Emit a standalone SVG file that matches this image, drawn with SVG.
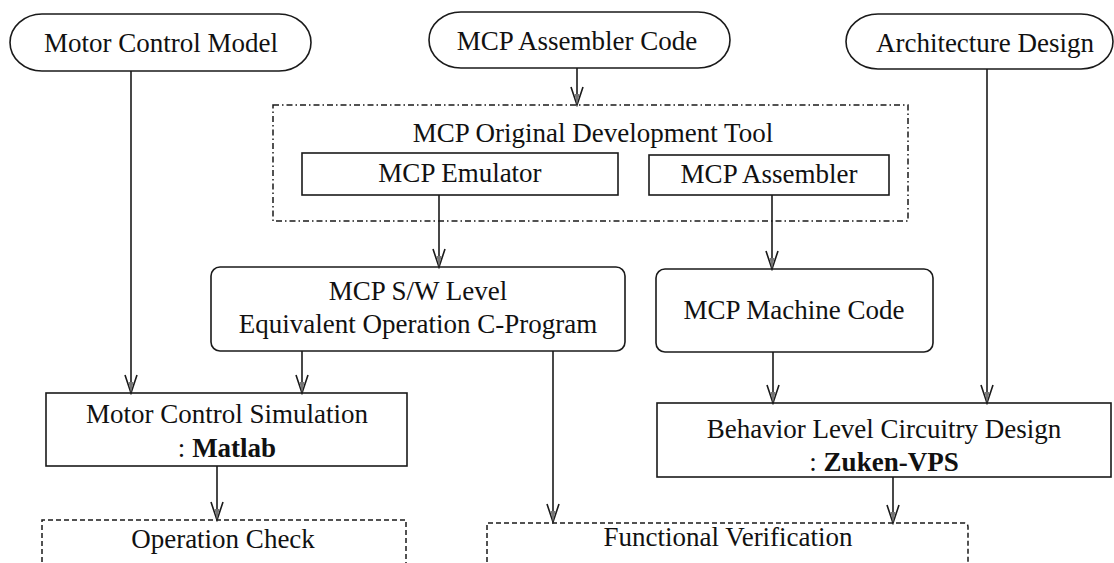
<svg xmlns="http://www.w3.org/2000/svg" width="1114" height="563" viewBox="0 0 1114 563">
<style>
  text { font-family: 'Liberation Serif', 'Times New Roman', 'DejaVu Serif', serif; font-size: 27px; fill: #111; text-anchor: middle; }
  .b { font-weight: bold; }
  .box { fill: none; stroke: #1a1a1a; stroke-width: 1.6; }
  .dash { fill: none; stroke: #1a1a1a; stroke-width: 1.5; stroke-dasharray: 5 3; }
  .dashdot { fill: none; stroke: #1a1a1a; stroke-width: 1.5; stroke-dasharray: 6 3 1.5 3; }
  .line { fill: none; stroke: #1a1a1a; stroke-width: 1.6; }
</style>
<defs>
  <marker id="arr" viewBox="-20 -8 22 16" refX="0" refY="0" markerWidth="22" markerHeight="16" markerUnits="userSpaceOnUse" orient="auto">
    <path d="M-18,-6 L0,0 L-18,6" fill="none" stroke="#1a1a1a" stroke-width="1.6"/>
    <path d="M-11,-2.5 L0,0 L-11,2.5 Z" fill="#777" stroke="none"/>
  </marker>
</defs>

<g id="connectors">
  <line class="line" x1="131" y1="71" x2="131" y2="393" marker-end="url(#arr)"/>
  <line class="line" x1="577" y1="68" x2="577" y2="105" marker-end="url(#arr)"/>
  <line class="line" x1="987" y1="69" x2="987" y2="403" marker-end="url(#arr)"/>
  <line class="line" x1="439" y1="195" x2="439" y2="267" marker-end="url(#arr)"/>
  <line class="line" x1="772" y1="195" x2="772" y2="269" marker-end="url(#arr)"/>
  <line class="line" x1="302" y1="351" x2="302" y2="393" marker-end="url(#arr)"/>
  <line class="line" x1="553" y1="351" x2="553" y2="522" marker-end="url(#arr)"/>
  <line class="line" x1="773" y1="352" x2="773" y2="403" marker-end="url(#arr)"/>
  <line class="line" x1="217" y1="466" x2="217" y2="520" marker-end="url(#arr)"/>
  <line class="line" x1="893" y1="477" x2="893" y2="523" marker-end="url(#arr)"/>
</g>

<g id="motor-control-model">
  <rect class="box" x="10" y="14" width="301" height="57" rx="32" ry="28.5"/>
  <text x="161" y="52">Motor Control Model</text>
</g>

<g id="mcp-assembler-code">
  <rect class="box" x="429" y="12" width="301" height="56" rx="32" ry="28"/>
  <text x="577" y="50">MCP Assembler Code</text>
</g>

<g id="architecture-design">
  <rect class="box" x="846" y="14" width="267" height="55" rx="32" ry="27.5"/>
  <text x="985" y="52">Architecture Design</text>
</g>

<g id="mcp-original-development-tool">
  <rect class="dashdot" x="273" y="105" width="635" height="116"/>
  <text x="593" y="142">MCP Original Development Tool</text>
</g>

<g id="mcp-emulator">
  <rect class="box" x="302" y="153" width="316" height="42"/>
  <text x="460" y="182">MCP Emulator</text>
</g>

<g id="mcp-assembler">
  <rect class="box" x="649" y="155" width="240" height="40"/>
  <text x="769" y="183">MCP Assembler</text>
</g>

<g id="mcp-sw-level">
  <rect class="box" x="211" y="267" width="414" height="84" rx="9" ry="9"/>
  <text x="418" y="300">MCP S/W Level</text>
  <text x="418" y="333">Equivalent Operation C-Program</text>
</g>

<g id="mcp-machine-code">
  <rect class="box" x="656" y="269" width="277" height="83" rx="9" ry="9"/>
  <text x="794" y="319">MCP Machine Code</text>
</g>

<g id="motor-control-simulation">
  <rect class="box" x="46" y="393" width="361" height="73"/>
  <text x="227" y="423">Motor Control Simulation</text>
  <text x="227" y="457">: <tspan class="b">Matlab</tspan></text>
</g>

<g id="behavior-level-circuitry-design">
  <rect class="box" x="657" y="403" width="454" height="74"/>
  <text x="884" y="438">Behavior Level Circuitry Design</text>
  <text x="884" y="471">: <tspan class="b">Zuken-VPS</tspan></text>
</g>

<g id="operation-check">
  <path class="dash" d="M42,570 L42,520 L406,520 L406,570"/>
  <text x="223" y="548">Operation Check</text>
</g>

<g id="functional-verification">
  <path class="dash" d="M487,570 L487,523 L964,523 Q968,523 968,527 L968,570"/>
  <text x="728" y="546">Functional Verification</text>
</g>
</svg>
